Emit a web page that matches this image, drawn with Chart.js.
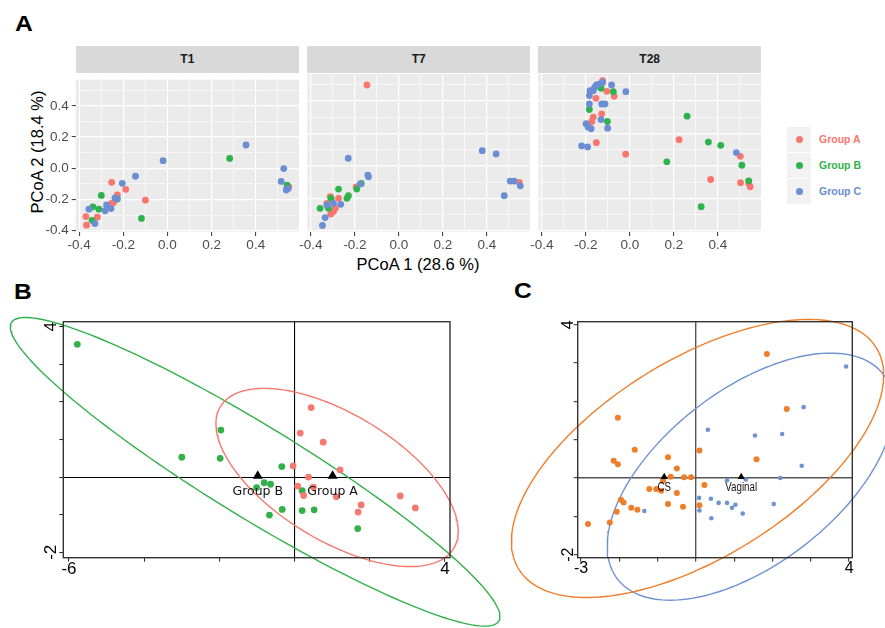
<!DOCTYPE html>
<html>
<head>
<meta charset="utf-8">
<script src="https://cdn.jsdelivr.net/npm/chart.js@4.4.0/dist/chart.umd.min.js"></script>
<style>
  body { margin: 0; width: 885px; height: 628px; position: relative; background: #fff; overflow: hidden;
         font-family: 'Liberation Sans', Arial, sans-serif; }
  canvas { position: absolute; }
  .tag { position: absolute; font-weight: bold; font-size: 22px; line-height: 1; color: #000;
         transform: scaleX(1.12); transform-origin: left top; }
  .strip { position: absolute; top: 46px; height: 27px; background: #D9D9D9; color: #1A1A1A;
           font-weight: bold; font-size: 12px; line-height: 27px; text-align: center; }
  .key { position: absolute; left: 787px; width: 24px; height: 25px; background: #F2F2F2; }
  .key span { position: absolute; left: 8.5px; top: 9px; width: 7px; height: 7px; border-radius: 50%; }
  .keytext { position: absolute; left: 819px; font-weight: bold; font-size: 10.5px; line-height: 12px; }
</style>
</head>
<body>

<div class="tag" style="left:15px;top:13px">A</div>
<div class="tag" style="left:14px;top:281px">B</div>
<div class="tag" style="left:514px;top:280px">C</div>

<div class="strip" style="left:75.7px;width:223.3px">T1</div>
<div class="strip" style="left:307.3px;width:222.7px">T7</div>
<div class="strip" style="left:538.3px;width:222.7px">T28</div>

<div style="position:absolute;left:37px;top:152px;transform:translate(-50%,-50%) rotate(-90deg);white-space:nowrap;font-size:16.5px;color:#000">PCoA 2 (18.4 %)</div>
<div style="position:absolute;left:418px;top:256px;transform:translateX(-50%);white-space:nowrap;font-size:16.5px;line-height:1;color:#000">PCoA 1 (28.6 %)</div>

<div class="key" style="top:127px"><span style="background:#F8766D"></span></div>
<div class="key" style="top:153px"><span style="background:#2EB24B"></span></div>
<div class="key" style="top:179px"><span style="background:#6A8DD3"></span></div>
<div class="keytext" style="top:133px;color:#F8766D">Group A</div>
<div class="keytext" style="top:159px;color:#2EB24B">Group B</div>
<div class="keytext" style="top:185px;color:#6A8DD3">Group C</div>

<canvas id="t1" width="306" height="195" style="left:0px;top:70px"></canvas>
<canvas id="t7" width="242" height="195" style="left:294px;top:70px"></canvas>
<canvas id="t28" width="240" height="195" style="left:525px;top:70px"></canvas>
<canvas id="panelB" width="545" height="338" style="left:0px;top:290px"></canvas>
<canvas id="panelC" width="395" height="338" style="left:490px;top:290px"></canvas>

<script>
// ---- panel A: PCoA per time point ----
const groupNames = ['Group A', 'Group B', 'Group C'];
const groupColors = ['#F8766D', '#2EB24B', '#6A8DD3'];

const t1GroupA = [[-0.253,-0.090],[-0.189,-0.135],[-0.100,-0.204],[-0.227,-0.170],[-0.245,-0.221],[-0.253,-0.225],[-0.318,-0.313],[-0.370,-0.309],[-0.367,-0.364],[0.550,-0.119]];
const t1GroupB = [[0.282,0.063],[0.542,-0.108],[-0.300,-0.174],[-0.227,-0.196],[-0.338,-0.247],[-0.311,-0.262],[-0.342,-0.333],[-0.118,-0.321]];
const t1GroupC = [[0.356,0.149],[-0.020,0.049],[0.527,-0.002],[0.515,-0.084],[0.547,-0.129],[0.538,-0.139],[-0.145,-0.051],[-0.205,-0.096],[-0.238,-0.190],[-0.276,-0.235],[-0.256,-0.258],[-0.283,-0.272],[-0.356,-0.262],[-0.329,-0.354],[-0.230,-0.196]];

const t7GroupA = [[-0.145,0.499],[-0.194,-0.129],[0.547,-0.102],[-0.312,-0.190],[-0.274,-0.200],[-0.327,-0.231],[-0.297,-0.282],[-0.309,-0.297],[-0.289,-0.262]];
const t7GroupB = [[-0.171,-0.108],[-0.191,-0.143],[-0.274,-0.143],[-0.229,-0.184],[-0.236,-0.200],[-0.308,-0.200],[-0.358,-0.262],[-0.320,-0.262]];
const t7GroupC = [[-0.230,0.047],[0.379,0.094],[0.442,0.074],[-0.141,-0.057],[-0.138,-0.067],[-0.176,-0.112],[0.506,-0.094],[0.524,-0.094],[0.552,-0.123],[0.479,-0.184],[-0.327,-0.241],[-0.297,-0.231],[-0.264,-0.237],[-0.335,-0.319],[-0.347,-0.368]];

const t28GroupA = [[-0.124,0.526],[-0.105,0.460],[-0.071,0.429],[-0.154,0.417],[-0.128,0.321],[-0.166,0.301],[-0.173,0.274],[-0.152,0.143],[0.224,0.162],[-0.019,0.072],[0.502,0.059],[0.367,-0.084],[0.503,-0.104],[0.541,-0.108],[0.547,-0.129]];
const t28GroupB = [[-0.131,0.479],[-0.075,0.458],[-0.184,0.348],[-0.102,0.274],[0.260,0.307],[0.357,0.147],[0.413,0.127],[0.168,0.025],[0.509,0.004],[0.540,-0.092],[0.324,-0.252]];
const t28GroupC = [[-0.124,0.515],[-0.083,0.499],[-0.151,0.499],[-0.140,0.505],[-0.160,0.485],[-0.181,0.464],[-0.166,0.464],[-0.018,0.458],[-0.184,0.434],[-0.113,0.382],[-0.128,0.382],[-0.184,0.382],[-0.131,0.286],[-0.101,0.233],[-0.199,0.260],[-0.189,0.239],[-0.176,0.229],[-0.219,0.123],[-0.192,0.117],[0.484,0.082]];

const pcoaTicks = [-0.4, -0.2, 0, 0.2, 0.4];
const pcoaMinor = [-0.3, -0.1, 0.1, 0.3, 0.5];

// ---- panel B: Group A vs Group B ----
const bGroupA = [[0.44,1.85],[0.15,1.17],[0.76,0.93],[-0.04,0.30],[0.37,0.00],[1.21,0.19],[0.08,-0.24],[0.50,-0.27],[0.24,-0.49],[1.11,-0.52],[1.77,-0.74],[1.69,-0.93],[2.81,-0.50],[3.21,-0.82]];
const bGroupB = [[-5.78,3.53],[-3.00,0.53],[-1.96,1.25],[-1.98,0.50],[-0.34,0.28],[-1.01,-0.28],[-0.81,-0.15],[-0.64,-0.19],[-0.67,-1.01],[-0.33,-0.86],[0.20,-0.36],[0.20,-0.89],[0.52,-0.87],[1.68,-1.37]];
const bCentroidNames = ['Group A', 'Group B'];
const bCentroids = [[1.01,0.03],[-0.98,0.03]];
// ellipse: centre x, centre y, semi-major, semi-minor, angle (deg)
const bEllipseA = [1.13,-0.01,3.63,1.68,-31.3];
const bEllipseB = [-1.05,0.14,7.6,1.22,-31.5];
const bXTicks = [-6,-4,-2,0,2,4];
const bXLabels = ['-6','','','','','4'];
const bYTicks = [-2,-1,0,1,2,3,4];
const bYLabels = ['-2','','','','','','4'];

// ---- panel C: CS vs Vaginal ----
const cCS = [[-2.04,1.57],[-1.60,0.74],[-2.15,0.45],[-2.04,0.36],[-0.73,0.54],[-0.50,0.25],[-0.66,0.03],[-0.31,0.02],[-0.13,0.02],[-0.86,-0.07],[-1.22,-0.29],[-1.04,-0.29],[-0.91,-0.33],[-0.50,-0.39],[-1.96,-0.57],[-1.89,-0.64],[-0.73,-0.68],[-0.34,-0.75],[-1.69,-0.78],[-1.53,-0.83],[-2.07,-0.88],[-2.25,-1.16],[-2.82,-1.20],[0.09,0.72],[0.09,-0.71],[1.85,3.24],[2.37,1.80],[1.58,0.49],[0.22,-0.18]];
const cVaginal = [[3.92,2.91],[2.81,1.85],[0.31,1.26],[1.54,1.11],[2.25,1.15],[2.76,0.32],[2.20,0.00],[1.30,-0.04],[0.81,-0.06],[0.08,-0.52],[0.39,-0.54],[0.59,-0.65],[0.81,-0.65],[1.03,-0.70],[0.94,-0.78],[2.03,-0.68],[0.09,-0.85],[1.22,-0.93],[0.40,-1.05],[-1.35,-0.86]];
const cCentroidNames = ['CS', 'Vaginal'];
const cCentroids = [[-0.83,0.03],[1.18,0.03]];
const cEllipseCS = [0.04,0.51,5.49,2.58,31.8];
const cEllipseVaginal = [1.42,0.035,4.38,2.28,37.6];
const cXTicks = [-3,-2,-1,0,1,2,3,4];
const cXLabels = ['-3','','','','','','','4'];
const cYTicks = [-2,-1,0,1,2,3,4];
const cYLabels = ['-2','','','','','','4'];

const FONT = "'Liberation Sans', Arial, sans-serif";
const toXY = arr => arr.map(p => ({ x: p[0], y: p[1] }));

function ellipsePath(e) {
  const [cx, cy, a, b, deg] = e;
  const t = deg * Math.PI / 180;
  const pts = [];
  for (let i = 0; i <= 180; i++) {
    const u = i / 180 * 2 * Math.PI;
    pts.push({
      x: cx + a * Math.cos(u) * Math.cos(t) - b * Math.sin(u) * Math.sin(t),
      y: cy + a * Math.cos(u) * Math.sin(t) + b * Math.sin(u) * Math.cos(t)
    });
  }
  return pts;
}

const panelBg = {
  id: 'panelBg',
  beforeDraw(chart, args, opts) {
    if (!opts.color) return;
    const { ctx, chartArea: a } = chart;
    ctx.save();
    ctx.fillStyle = opts.color;
    ctx.fillRect(a.left, a.top, a.width, a.height);
    ctx.restore();
  }
};

const frame = {
  id: 'frame',
  afterDatasetsDraw(chart, args, opts) {
    if (!opts.color) return;
    const { ctx, chartArea: a } = chart;
    ctx.save();
    ctx.strokeStyle = opts.color;
    ctx.lineWidth = opts.width;
    ctx.strokeRect(a.left, a.top, a.width, a.height);
    ctx.restore();
  }
};

const centroidLabels = {
  id: 'centroidLabels',
  afterDatasetsDraw(chart, args, o) {
    if (!o.names) return;
    const { ctx, scales: { x, y } } = chart;
    ctx.save();
    ctx.font = o.font;
    ctx.fillStyle = '#111';
    ctx.textAlign = 'center';
    ctx.textBaseline = 'middle';
    o.names.forEach((name, i) => {
      const px = x.getPixelForValue(o.points[i][0]);
      const py = y.getPixelForValue(o.points[i][1]) + o.dy;
      ctx.save();
      ctx.translate(px, py);
      ctx.scale(o.stretch, 1);
      ctx.fillText(name, 0, 0);
      ctx.restore();
    });
    ctx.restore();
  }
};

// ggplot-like facet
function facet(id, sets, pad, yWidth, showY) {
  const withMinor = axis => {
    axis.ticks = pcoaTicks.map(v => ({ value: v, minor: false }))
      .concat(pcoaMinor.map(v => ({ value: v, minor: true })))
      .sort((p, q) => p.value - q.value);
  };
  const grid = {
    color: '#FFFFFF',
    lineWidth: c => (c.tick && c.tick.minor ? 0.6 : 1.2),
    tickColor: c => (c.tick && c.tick.minor ? 'rgba(0,0,0,0)' : '#333333'),
    tickWidth: 1,
    tickLength: 4
  };
  new Chart(document.getElementById(id), {
    type: 'scatter',
    data: {
      datasets: sets.map((d, i) => ({
        label: groupNames[i],
        data: toXY(d),
        pointRadius: 3.4,
        pointBorderWidth: 0,
        backgroundColor: groupColors[i]
      })).reverse()
    },
    options: {
      responsive: false,
      animation: false,
      events: [],
      layout: { padding: pad },
      plugins: { legend: { display: false }, tooltip: { enabled: false }, panelBg: { color: '#EBEBEB' } },
      scales: {
        x: {
          min: -0.416, max: 0.596,
          afterBuildTicks: withMinor,
          afterFit: s => { s.height = 26; },
          grid: grid,
          border: { display: false },
          ticks: {
            autoSkip: false, maxRotation: 0, padding: 3,
            color: '#4D4D4D', font: { family: FONT, size: 13.5, lineHeight: 1 },
            callback: (v, i, ticks) => (ticks[i].minor ? '' : v.toFixed(1))
          }
        },
        y: {
          min: -0.408, max: 0.567,
          afterBuildTicks: withMinor,
          afterFit: s => { s.width = yWidth; },
          grid: showY ? grid : Object.assign({}, grid, { drawTicks: false, tickLength: 0 }),
          border: { display: false },
          ticks: {
            display: showY, autoSkip: false, padding: 3,
            color: '#4D4D4D', font: { family: FONT, size: 13.5, lineHeight: 1 },
            callback: (v, i, ticks) => (ticks[i].minor ? '' : v.toFixed(1))
          }
        }
      }
    },
    plugins: [panelBg]
  });
}

facet('t1', [t1GroupA, t1GroupB, t1GroupC], { left: 0, right: 7, top: 3, bottom: 7 }, 75.7, true);
facet('t7', [t7GroupA, t7GroupB, t7GroupC], { left: 13.3, right: 6, top: 3, bottom: 7 }, 0, false);
facet('t28', [t28GroupA, t28GroupB, t28GroupC], { left: 13.3, right: 4, top: 3, bottom: 7 }, 0, false);

// base-R style ordination plot
function ordination(id, cfg) {
  const tickSet = vals => axis => { axis.ticks = vals.map(v => ({ value: v })); };
  const grid = {
    color: c => (c.tick && c.tick.value === 0 ? cfg.zeroColor : 'rgba(0,0,0,0)'),
    lineWidth: cfg.zeroWidth,
    tickColor: '#222',
    tickWidth: 1,
    tickLength: 4
  };
  const datasets = [];
  datasets.push({
    data: toXY(cfg.centroids), pointStyle: 'triangle', pointRadius: cfg.triR,
    pointBorderWidth: 0, backgroundColor: '#000'
  });
  cfg.groups.forEach(g => {
    datasets.push({
      data: toXY(g.points), pointRadius: g.r, pointBorderWidth: 0, backgroundColor: g.color
    });
  });
  cfg.groups.forEach(g => {
    datasets.push({
      data: ellipsePath(g.ellipse), showLine: true, pointRadius: 0, borderColor: g.color,
      borderWidth: 1.4, fill: false, clip: false
    });
  });
  new Chart(document.getElementById(id), {
    type: 'scatter',
    data: { datasets: datasets },
    options: {
      responsive: false,
      animation: false,
      events: [],
      layout: { padding: cfg.pad },
      plugins: {
        legend: { display: false }, tooltip: { enabled: false },
        frame: { color: '#333', width: 1.4 },
        centroidLabels: { names: cfg.names, points: cfg.centroids, font: cfg.labelFont, dy: cfg.labelDy, stretch: cfg.stretch }
      },
      scales: {
        x: {
          min: cfg.xMin, max: cfg.xMax,
          afterBuildTicks: tickSet(cfg.xTicks),
          afterFit: s => { s.height = 40; },
          grid: grid,
          border: { display: false },
          ticks: {
            autoSkip: false, maxRotation: 0, padding: cfg.xPad, color: '#000',
            font: { family: FONT, size: cfg.tickSize, lineHeight: 1 },
            callback: (v, i) => cfg.xLabels[i]
          }
        },
        y: {
          min: cfg.yMin, max: cfg.yMax,
          afterBuildTicks: tickSet(cfg.yTicks),
          afterFit: s => { s.width = 40; },
          grid: grid,
          border: { display: false },
          ticks: {
            autoSkip: false, minRotation: 90, maxRotation: 90, crossAlign: 'center', padding: cfg.yPad,
            color: '#000', font: { family: FONT, size: cfg.tickSize, lineHeight: 1 },
            callback: (v, i) => cfg.yLabels[i]
          }
        }
      }
    },
    plugins: [frame, centroidLabels]
  });
}

ordination('panelB', {
  xMin: -6.152, xMax: 4.133, yMin: -2.144, yMax: 4.133,
  xTicks: bXTicks, xLabels: bXLabels, yTicks: bYTicks, yLabels: bYLabels,
  pad: { left: 23.3, right: 95, top: 31.7, bottom: 30.3 },
  centroids: bCentroids, names: bCentroidNames, triR: 5.8,
  labelFont: "12.5px 'DejaVu Sans', sans-serif", labelDy: 16, stretch: 1,
  zeroColor: '#000', zeroWidth: 1.1, tickSize: 17, xPad: -1, yPad: 0,
  groups: [
    { points: bGroupA, color: '#F47A70', r: 3.4, ellipse: bEllipseA },
    { points: bGroupB, color: '#33B04A', r: 3.4, ellipse: bEllipseB }
  ]
});

ordination('panelC', {
  xMin: -3.089, xMax: 4.081, yMin: -2.081, yMax: 4.081,
  xTicks: cXTicks, xLabels: cXLabels, yTicks: cYTicks, yLabels: cYLabels,
  pad: { left: 47.7, right: 32.7, top: 31.7, bottom: 30.3 },
  centroids: cCentroids, names: cCentroidNames, triR: 4.2,
  labelFont: "12.5px 'Liberation Sans', Arial, sans-serif", labelDy: 11, stretch: 0.78,
  zeroColor: '#555', zeroWidth: 1.4, tickSize: 16, xPad: -1, yPad: -2,
  groups: [
    { points: cCS, color: '#F07D28', r: 3, ellipse: cEllipseCS },
    { points: cVaginal, color: '#6F93D2', r: 2.3, ellipse: cEllipseVaginal }
  ]
});
</script>
</body>
</html>
